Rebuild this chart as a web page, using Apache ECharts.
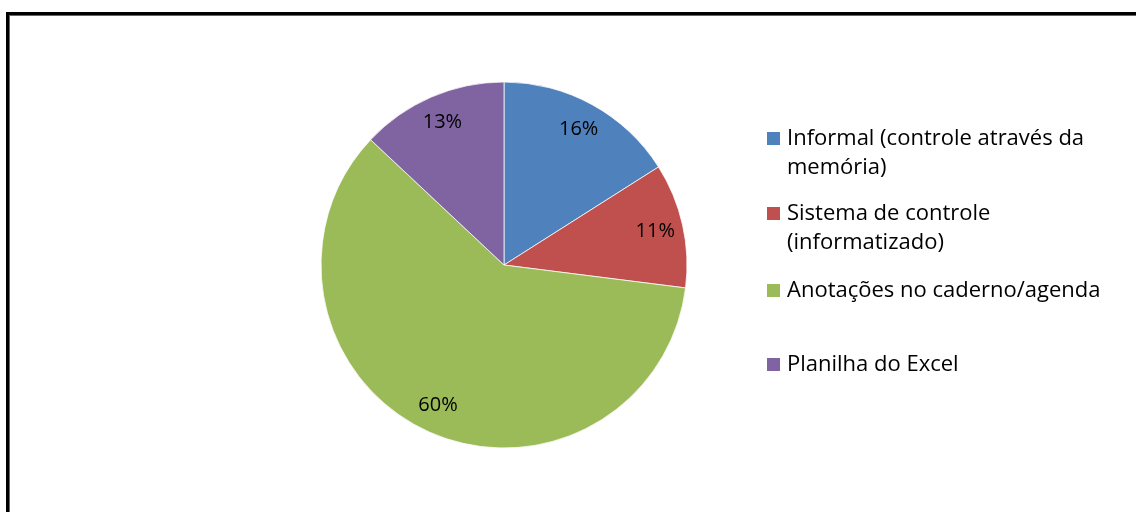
<!DOCTYPE html>
<html>
<head>
<meta charset="utf-8">
<script src="https://cdn.jsdelivr.net/npm/echarts@6/dist/echarts.min.js"></script>
<style>
  html, body { margin: 0; padding: 0; background: #fff; }
  #chart { position: absolute; left: 0; top: 0; width: 1136px; height: 512px; }
  /* outer frame of the chart area (runs past the right and bottom edges) */
  #frame {
    position: absolute; left: 6px; top: 12px; width: 1200px; height: 600px;
    border-left: 3px solid #000; border-top: 3px solid #000;
    box-shadow: inset 1px 1px 0 #666; pointer-events: none;
  }
</style>
</head>
<body>
<div id="chart"></div>
<div id="frame"></div>
<script>
// Categories, their legend text (wrapped), values (%) and colours
const categories = [
  'Informal (controle através da memória)',
  'Sistema de controle (informatizado)',
  'Anotações no caderno/agenda',
  'Planilha do Excel'
];
const legendText = [
  'Informal (controle através da\nmemória)',
  'Sistema de controle\n(informatizado)',
  'Anotações no caderno/agenda',
  'Planilha do Excel'
];
const values = [16, 11, 60, 13];
const colors = ['#4F81BD', '#C0504D', '#9BBB59', '#8064A2'];

const FONT = '"Open Sans", "Noto Sans", sans-serif';
const LEGEND_SIZE = 22;
const LINE_H = 29;
const ICON = 13;
const iconTops = [132, 207, 284, 358];

const pieData = categories.map((name, i) => ({
  name, value: values[i], itemStyle: { color: colors[i] }
}));

// One legend block per entry. Legend text is centred on the square, so a
// wrapped entry gets an empty leading line to keep its first line level with it.
const legends = categories.map((name, i) => {
  const extra = legendText[i].split('\n').length - 1;
  const shown = '\n'.repeat(extra) + legendText[i];
  const halfBox = (2 * extra + 1) * LINE_H / 2;
  return {
    left: 767,
    top: iconTops[i] - (halfBox - ICON / 2),
    orient: 'vertical',
    padding: 0,
    itemWidth: ICON,
    itemHeight: ICON,
    itemGap: 0,
    icon: 'rect',
    selectedMode: false,
    data: [{ name, itemStyle: { color: colors[i], borderWidth: 0 } }],
    itemStyle: { borderWidth: 0 },
    formatter: () => shown,
    textStyle: {
      fontFamily: FONT, fontSize: LEGEND_SIZE, lineHeight: LINE_H,
      color: '#000', padding: [0, 0, 0, 2]
    }
  };
});

const chart = echarts.init(document.getElementById('chart'), null, { renderer: 'canvas' });
chart.setOption({
  backgroundColor: '#fff',
  animation: false,
  legend: legends,
  series: [
    {
      type: 'pie',
      center: [504, 265],
      radius: [0, 183],
      startAngle: 90,
      clockwise: true,
      silent: true,
      data: pieData,
      itemStyle: { borderColor: '#fff', borderWidth: 0.75 },
      label: { show: false },
      labelLine: { show: false }
    },
    {
      // transparent ring that only carries the percentage labels
      type: 'pie',
      center: [504, 265],
      radius: [121, 183],
      startAngle: 90,
      clockwise: true,
      silent: true,
      data: pieData.map(d => ({ name: d.name, value: d.value })),
      itemStyle: { color: 'rgba(0,0,0,0)', borderWidth: 0 },
      label: {
        show: true,
        position: 'inside',
        formatter: '{d}%',
        fontFamily: FONT,
        fontSize: 20,
        color: '#000'
      },
      labelLine: { show: false },
      percentPrecision: 0
    }
  ]
});
</script>
</body>
</html>
